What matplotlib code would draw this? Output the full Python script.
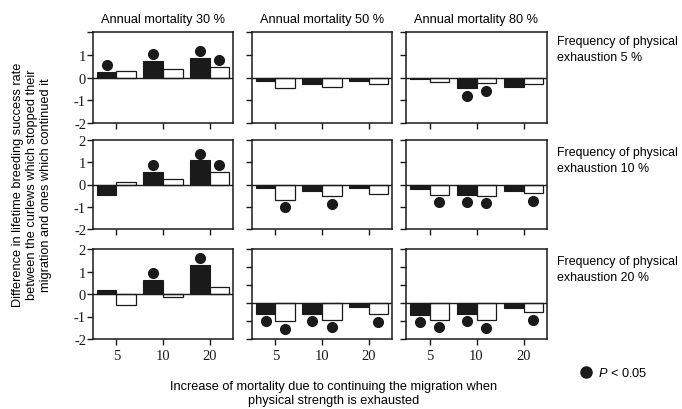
import matplotlib
matplotlib.use('Agg')
import matplotlib.pyplot as plt
import matplotlib.transforms as mtransforms
from matplotlib.lines import Line2D

plt.rcParams['font.family'] = ['Liberation Sans', 'DejaVu Sans']
plt.rcParams['axes.unicode_minus'] = False
plt.rcParams['mathtext.fontset'] = 'custom'
plt.rcParams['mathtext.it'] = 'Liberation Sans:italic'
plt.rcParams['mathtext.rm'] = 'Liberation Sans'

# Data
mortality = ['30', '50', '80']          # columns
exhaustion = ['5', '10', '20']          # rows
increase = ['5', '10', '20']            # x categories

# black bars [row][col][category]
black_vals = [
    [[0.25, 0.72, 0.87], [-0.15, -0.30, -0.15], [-0.05, -0.46, -0.40]],
    [[-0.45, 0.56, 1.08], [-0.15, -0.29, -0.15], [-0.20, -0.45, -0.30]],
    [[0.20, 0.63, 1.30], [-0.60, -0.60, -0.24], [-0.64, -0.60, -0.28]],
]
# white bars
white_vals = [
    [[0.28, 0.37, 0.46], [-0.46, -0.40, -0.28], [-0.19, -0.24, -0.28]],
    [[0.12, 0.23, 0.56], [-0.68, -0.53, -0.41], [-0.45, -0.50, -0.39]],
    [[-0.49, -0.15, 0.33], [-1.00, -0.93, -0.62], [-0.92, -0.97, -0.52]],
]
# P < 0.05 flags
black_sig = [
    [[1, 1, 1], [0, 0, 0], [0, 1, 0]],
    [[0, 1, 1], [0, 0, 0], [0, 1, 0]],
    [[0, 1, 1], [1, 1, 0], [1, 1, 0]],
]
white_sig = [
    [[0, 0, 1], [0, 0, 0], [0, 1, 0]],
    [[0, 0, 1], [1, 1, 0], [1, 1, 1]],
    [[0, 0, 0], [1, 1, 1], [1, 1, 1]],
]

W, H = 682, 410
fig = plt.figure(figsize=(W / 100, H / 100), dpi=100)

col_left = [93, 252, 406]
col_w = [140, 140, 141]
row_top = [33, 141, 250]
row_h = [91, 89, 90]

bw = 0.42
serif = ['Liberation Serif', 'DejaVu Serif']
fs = 9.2

for r in range(3):
    for c in range(3):
        ax = fig.add_axes([col_left[c] / W, 1 - (row_top[r] + row_h[r]) / H,
                           col_w[c] / W, row_h[r] / H])
        xs = range(len(increase))
        bv = black_vals[r][c]
        wv = white_vals[r][c]
        ax.bar([x - bw for x in xs], bv, width=bw, align='edge',
               color='#1a1a1a', edgecolor='#1a1a1a', linewidth=0.8, zorder=2)
        ax.bar(list(xs), wv, width=bw, align='edge',
               color='white', edgecolor='#1a1a1a', linewidth=0.9, zorder=2)
        ax.axhline(0, color='#1a1a1a', lw=1.0, zorder=3)

        up = mtransforms.offset_copy(ax.transData, fig=fig, x=0, y=5, units='points')
        dn = mtransforms.offset_copy(ax.transData, fig=fig, x=0, y=-5.5, units='points')
        for k in xs:
            for vals, sig, xc in ((bv, black_sig[r][c], k - bw / 2),
                                  (wv, white_sig[r][c], k + bw / 2)):
                if sig[k]:
                    ax.plot(xc, vals[k], 'o', color='#1a1a1a', ms=7,
                            transform=up if vals[k] > 0 else dn, clip_on=False)

        ax.set_xlim(-0.5, 2.5)
        if r == 2 and c > 0:
            ax.set_ylim(-2, 3)
            ax.set_yticks([-2, -1, 0, 1, 2, 3])
        else:
            ax.set_ylim(-2, 2)
            ax.set_yticks([-2, -1, 0, 1, 2])
        ax.set_xticks(list(xs))
        ax.tick_params(direction='out', length=4, width=1, colors='#1a1a1a',
                       top=False, right=False)
        for s in ax.spines.values():
            s.set_linewidth(1.1)
            s.set_color('#1a1a1a')

        if r == 2:
            ax.set_xticklabels(increase, family=serif, fontsize=10.5)
        else:
            ax.set_xticklabels([])
        if c == 0:
            labs = ['-2', '-1', '0', '1', '2']
            if r == 0:
                labs[-1] = ''
            ax.set_yticklabels(labs, family=serif, fontsize=10.5)
            ax.tick_params(axis='y', pad=1)
        else:
            ax.set_yticklabels([])

        if r == 0:
            ax.set_title('Annual mortality ' + mortality[c] + ' %', fontsize=fs, pad=7)

for r in range(3):
    fig.text(557 / W, 1 - (row_top[r] + (3 if r == 0 else 6)) / H,
             'Frequency of physical\nexhaustion ' + exhaustion[r] + ' %',
             ha='left', va='top', fontsize=8.9, linespacing=1.4)

fig.text(32 / W, 1 - 185 / H,
         'Difference in lifetime breeding success rate\n'
         'between the curlews which stopped their\n'
         'migration and ones which continued it',
         rotation=90, ha='center', va='center', multialignment='center',
         fontsize=fs, linespacing=1.25)

fig.text(334 / W, 1 - 394 / H,
         'Increase of mortality due to continuing the migration when\n'
         'physical strength is exhausted',
         ha='center', va='center', multialignment='center', fontsize=fs,
         linespacing=1.2)

handle = Line2D([], [], marker='o', color='#1a1a1a', ls='none', ms=8)
fig.legend([handle], ['$P$ < 0.05'], loc='center left',
           bbox_to_anchor=(572 / W, 1 - 374 / H), frameon=False,
           handletextpad=0.3, handlelength=1.2, fontsize=fs, borderpad=0)

fig.savefig('out.png', dpi=100)
